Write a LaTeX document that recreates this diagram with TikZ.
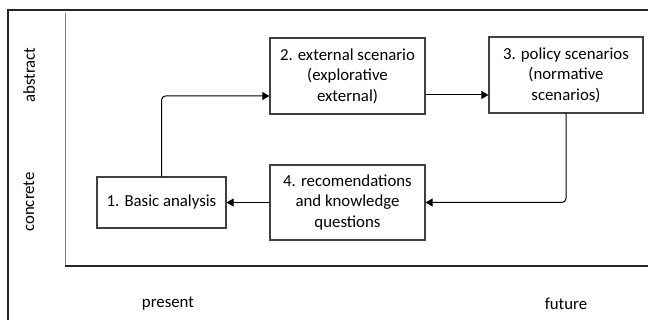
\documentclass[tikz,border=0pt]{standalone}
\usepackage{fontspec}
\setmainfont{Carlito}
\usetikzlibrary{arrows.meta}
\begin{document}
\begin{tikzpicture}[x=1pt,y=-1pt,
  stage/.style={draw=black!75,line width=1.2pt,fill=white,inner sep=0pt,
    align=center,font=\fontsize{16.8}{20.5}\selectfont},
  flow/.style={draw=black,line width=1pt,rounded corners=4pt,
    -{Triangle[length=7pt,width=8pt]}},
  axislabel/.style={font=\fontsize{16.8}{20.5}\selectfont,inner sep=0pt}]
\useasboundingbox (0,0) rectangle (648,320);
% outer frame
\draw[line width=1.5pt,black!85] (648,10) -- (8,10) -- (8,320);
% axes
\draw[line width=1pt,black!50] (65,13) -- (65,266);
\draw[line width=1.3pt,black!85] (65,266) -- (648,266);
% axis labels
\node[axislabel,rotate=90] (abs) at (29,75) {abstract};
\node[axislabel,rotate=90] (con) at (29,202) {concrete};
\node[axislabel] (pres) at (168,304) {present};
\node[axislabel] (fut) at (566,304) {future};
% stages
\node[stage,minimum width=129pt,minimum height=51pt] (s1) at (161.5,202.5) {1. Basic analysis};
\node[stage,minimum width=155pt,minimum height=76pt] (s2) at (347.5,76) {2. external scenario\\(explorative\\external)};
\node[stage,minimum width=154pt,minimum height=76pt] (s3) at (566,75) {3. policy scenarios\\(normative\\scenarios)};
\node[stage,minimum width=155pt,minimum height=75pt] (s4) at (347.5,202.5) {4. recomendations\\and knowledge\\questions};
% connectors
\coordinate (c1) at (s1.north |- 0,96);
\draw[flow] (s1.north) -- (c1) -- (s2.west |- c1);
\draw[flow] (s2.east |- 0,95) -- (s3.west |- 0,95);
\draw[flow] (s3.south) |- (s4.east);
\draw[flow] (s4.west) -- (s1.east);
\end{tikzpicture}
\end{document}
